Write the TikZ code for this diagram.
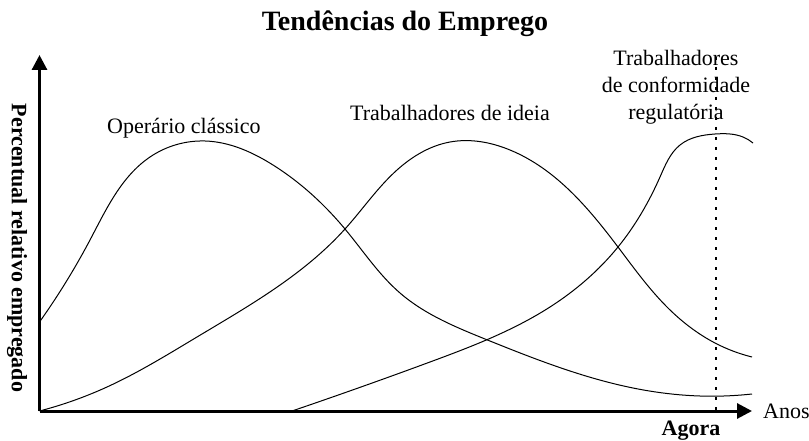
\documentclass[tikz,border=0pt]{standalone}
\usepackage{fontspec}
\setmainfont{Liberation Serif}
\usetikzlibrary{arrows.meta,hobby}
\begin{document}
\begin{tikzpicture}[x=1pt,y=-1pt,
  axis/.style={line width=3pt,-{Triangle[length=15pt,width=15pt]}},
  curve/.style={line width=1pt,use Hobby shortcut},
  lbl/.style={font=\fontsize{22}{27}\selectfont,inner sep=0pt},
  blbl/.style={font=\fontsize{22}{27}\selectfont\bfseries,inner sep=0pt}]
\useasboundingbox (0,0) rectangle (809,441);
\node[font=\fontsize{28}{32}\selectfont\bfseries,inner sep=0pt,anchor=base] (title) at (405,31) {Tendências do Emprego};
\coordinate (o) at (39.5,411);
\coordinate (ytop) at (39.5,55);
\coordinate (xend) at (752,411);
\draw[axis] (o) -- (ytop);
\draw[axis] (o) -- (xend);
\node[blbl,rotate=-90] (ylab) at (17,248) {Percentual relativo empregado};
\node[lbl,anchor=base west] (anos) at (763,418) {Anos};
\node[blbl,anchor=base] (agora) at (691,435) {Agora};
\coordinate (dtop) at (716,57);
\coordinate (dbot) at (716,411);
\draw[line width=1.5pt,dash pattern=on 3pt off 7pt] (dtop) -- (dbot);
\draw[curve] (39.5,322) .. (90,240) .. (150,157) .. (205,141) .. (273,165) .. (345,229) .. (400,293) .. (485,339) .. (567,370) .. (633,388) .. (700,396) .. (752,394);
\draw[curve] (39.5,411) .. (107,387) .. (197,337) .. (345,229) .. (397,170) .. (450,142) .. (510,150) .. (618,247) .. (667,307) .. (715,343) .. (752,357);
\draw[curve] (292,411) .. (430,362) .. (550,307) .. (618,247) .. (660,177) .. (680,145) .. (715,134) .. (743,137) .. (753,143);
\node[lbl,anchor=base west] (op) at (107,134) {Operário clássico};
\node[lbl,anchor=base] (id) at (450,121) {Trabalhadores de ideia};
\node[lbl,anchor=base,align=center] (conf) at (676,120) {Trabalhadores\\de conformidade\\regulatória};
\end{tikzpicture}
\end{document}
